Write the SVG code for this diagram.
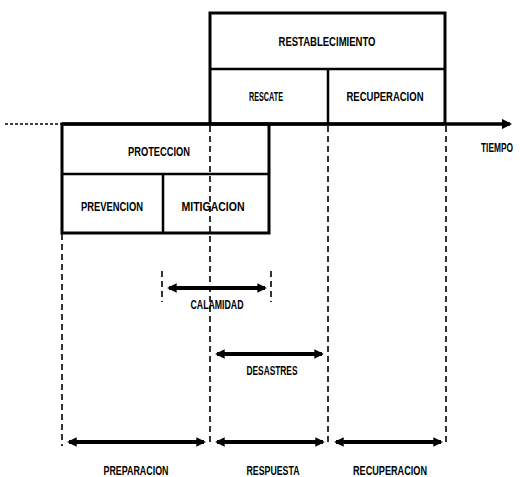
<svg xmlns="http://www.w3.org/2000/svg" width="520" height="477" viewBox="0 0 520 477">
<style>
.box{fill:none;stroke:#000;stroke-width:3}
.div{stroke:#000;stroke-width:2.5;fill:none}
.dash{stroke:#000;stroke-width:1.6;stroke-dasharray:6 4;fill:none}
.arr{stroke:#000;stroke-width:4;fill:none;marker-start:url(#ah);marker-end:url(#ah)}
.t{font-family:"Liberation Sans",Arial,sans-serif;font-weight:bold;font-size:13.5px;fill:#000;text-anchor:middle}
</style>
<defs>
<marker id="ah" viewBox="0 0 10 10" refX="8" refY="5" markerWidth="2.4" markerHeight="2.4" orient="auto-start-reverse" markerUnits="strokeWidth">
<path d="M0,0 L10,5 L0,10 z" fill="#000"/>
</marker>
<marker id="ta" viewBox="0 0 10 10" refX="8" refY="5" markerWidth="3" markerHeight="3" orient="auto" markerUnits="strokeWidth">
<path d="M0,0 L10,5 L0,10 z" fill="#000"/>
</marker>
</defs>
<g id="connectors">
<line x1="5" y1="124" x2="62" y2="124" stroke="#000" stroke-width="1.6" stroke-dasharray="3 2"/>
<line x1="62" y1="124" x2="510" y2="124" stroke="#000" stroke-width="3.5" marker-end="url(#ta)"/>
<line class="dash" x1="62" y1="234" x2="62" y2="446"/>
<line class="dash" x1="210" y1="126" x2="210" y2="446"/>
<line class="dash" x1="328" y1="126" x2="328" y2="446"/>
<line class="dash" x1="446" y1="126" x2="446" y2="446"/>
<line class="dash" x1="162" y1="271" x2="162" y2="302"/>
<line class="dash" x1="271" y1="271" x2="271" y2="302"/>
<line class="arr" x1="169" y1="288" x2="265" y2="288"/>
<line class="arr" x1="217" y1="354" x2="322" y2="354"/>
<line class="arr" x1="69" y1="442" x2="204" y2="442"/>
<line class="arr" x1="217" y1="442" x2="323" y2="442"/>
<line class="arr" x1="336" y1="442" x2="441" y2="442"/>
</g>
<g id="restablecimiento">
<rect class="box" x="210" y="13" width="235" height="111"/>
<line class="div" x1="210" y1="69" x2="445" y2="69"/>
<text class="t" x="327" y="46" textLength="97" lengthAdjust="spacingAndGlyphs">RESTABLECIMIENTO</text>
</g>
<g id="rescate">
<line class="div" x1="328" y1="69" x2="328" y2="124"/>
<text class="t" x="266" y="101" textLength="34" lengthAdjust="spacingAndGlyphs">RESCATE</text>
</g>
<g id="recuperacion-top">
<text class="t" x="385" y="101" textLength="77" lengthAdjust="spacingAndGlyphs">RECUPERACION</text>
</g>
<g id="proteccion">
<rect class="box" x="62" y="124" width="207" height="109"/>
<line class="div" x1="62" y1="174" x2="269" y2="174"/>
<text class="t" x="159" y="156" textLength="62" lengthAdjust="spacingAndGlyphs">PROTECCION</text>
</g>
<g id="prevencion">
<line class="div" x1="163" y1="174" x2="163" y2="233"/>
<text class="t" x="112" y="211" textLength="62" lengthAdjust="spacingAndGlyphs">PREVENCION</text>
</g>
<g id="mitigacion">
<text class="t" x="213" y="211" textLength="63" lengthAdjust="spacingAndGlyphs">MITIGACION</text>
</g>
<g id="tiempo">
<text class="t" transform="translate(497,152) scale(0.62,1)" x="0" y="0">TIEMPO</text>
</g>
<g id="calamidad">
<text class="t" x="217" y="309" textLength="53" lengthAdjust="spacingAndGlyphs">CALAMIDAD</text>
</g>
<g id="desastres">
<text class="t" x="272" y="375" textLength="51" lengthAdjust="spacingAndGlyphs">DESASTRES</text>
</g>
<g id="preparacion">
<text class="t" x="136" y="475" textLength="65" lengthAdjust="spacingAndGlyphs">PREPARACION</text>
</g>
<g id="respuesta">
<text class="t" x="273" y="475" textLength="53" lengthAdjust="spacingAndGlyphs">RESPUESTA</text>
</g>
<g id="recuperacion">
<text class="t" x="390" y="475" textLength="74" lengthAdjust="spacingAndGlyphs">RECUPERACION</text>
</g>
</svg>
